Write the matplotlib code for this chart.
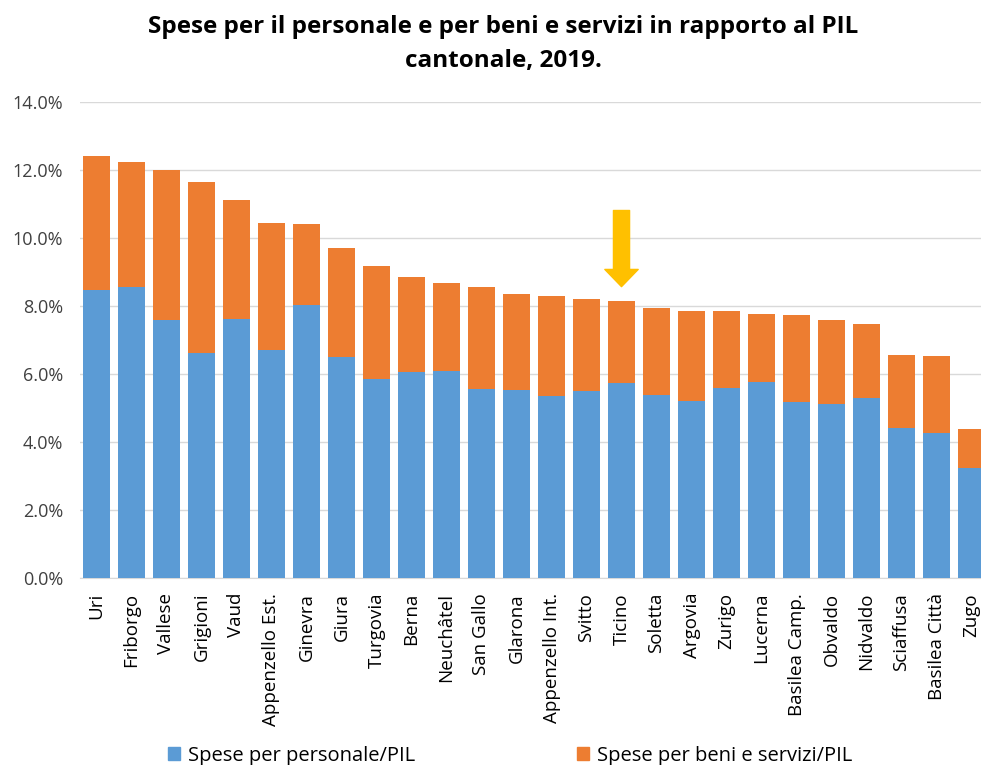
import matplotlib
matplotlib.use("Agg")
import matplotlib.pyplot as plt
from matplotlib.patches import Patch

cantons = ["Uri", "Friborgo", "Vallese", "Grigioni", "Vaud", "Appenzello Est.",
           "Ginevra", "Giura", "Turgovia", "Berna", "Neuchâtel", "San Gallo",
           "Glarona", "Appenzello Int.", "Svitto", "Ticino", "Soletta", "Argovia",
           "Zurigo", "Lucerna", "Basilea Camp.", "Obvaldo", "Nidvaldo",
           "Sciaffusa", "Basilea Città", "Zugo"]

# Personnel spending as % of cantonal GDP
personale = [8.46, 8.56, 7.58, 6.60, 7.60, 6.70, 8.02, 6.49, 5.84, 6.04, 6.09,
             5.56, 5.53, 5.33, 5.50, 5.74, 5.37, 5.21, 5.59, 5.75, 5.16, 5.10,
             5.28, 4.40, 4.26, 3.22]
# Total (personnel + goods and services) as % of cantonal GDP
totale = [12.40, 12.22, 11.98, 11.63, 11.11, 10.44, 10.41, 9.70, 9.16, 8.84,
          8.67, 8.55, 8.34, 8.28, 8.20, 8.14, 7.93, 7.84, 7.84, 7.77, 7.74,
          7.59, 7.47, 6.54, 6.51, 4.36]
beni_servizi = [round(t - p, 2) for t, p in zip(totale, personale)]

y_ticks = [0, 2, 4, 6, 8, 10, 12, 14]
highlight = "Ticino"

BLUE = "#5B9BD5"
ORANGE = "#ED7D31"
GOLD = "#FFC000"
FONT = ["Open Sans", "DejaVu Sans"]

plt.rcParams["font.family"] = FONT

fig = plt.figure(figsize=(9.81, 7.65), dpi=100)
ax = fig.add_axes([80 / 981, 1 - 577.7 / 765, 1 - 80 / 981, (577.7 - 101.7) / 765])

x = list(range(len(cantons)))
ax.bar(x, personale, width=0.77, color=BLUE, zorder=3)
ax.bar(x, beni_servizi, width=0.77, bottom=personale, color=ORANGE, zorder=3)

ax.set_ylim(0, 14)
ax.set_xlim(-0.47, len(cantons) - 0.73)
ax.set_yticks(y_ticks)
ax.set_yticklabels([f"{v:.1f}%" for v in y_ticks], fontsize=13, color="#404040")
ax.set_xticks(x)
ax.set_xticklabels(cantons, rotation=90, fontsize=13.5, color="#000000")
ax.tick_params(axis="both", length=0)
ax.tick_params(axis="y", pad=12)
ax.tick_params(axis="x", pad=11)

ax.grid(axis="y", color="#D9D9D9", linewidth=1, zorder=0)
for side in ("top", "right", "left"):
    ax.spines[side].set_visible(False)
ax.spines["bottom"].set_color("#D9D9D9")

# Arrow pointing at the highlighted canton
i = cantons.index(highlight)
ax.annotate("", xy=(i, totale[i] + 0.42), xytext=(i, totale[i] + 2.66),
            arrowprops=dict(arrowstyle="simple,head_length=0.62,head_width=1.2,tail_width=0.58",
                            mutation_scale=20, color=GOLD, shrinkA=0, shrinkB=0),
            zorder=5)

fig.text(0.513, 0.981, "Spese per il personale e per beni e servizi in rapporto al PIL\ncantonale, 2019.",
         ha="center", va="top", fontsize=17.5, fontweight="bold", linespacing=1.6)

handles = [Patch(color=BLUE, label="Spese per personale/PIL"),
           Patch(color=ORANGE, label="Spese per beni e servizi/PIL")]
fig.legend(handles=handles, loc="center", bbox_to_anchor=(0.52, 0.012), ncol=2,
           frameon=False, fontsize=14.5, columnspacing=8.05, handlelength=0.6,
           handleheight=0.6, handletextpad=0.4)

fig.savefig("out.png", dpi=100)
